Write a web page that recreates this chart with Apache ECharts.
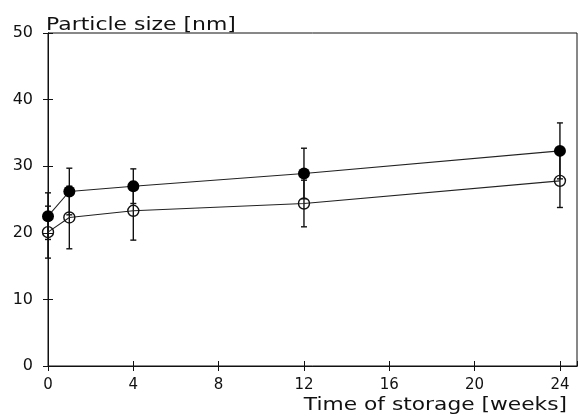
<!DOCTYPE html>
<html>
<head>
<meta charset="utf-8">
<script src="https://cdn.jsdelivr.net/npm/echarts@6/dist/echarts.min.js"></script>
<style>
  html, body { margin: 0; padding: 0; background: #fff; }
  #main { width: 579px; height: 417px; }
</style>
</head>
<body>
<div id="main"></div>
<script>
// storage time in weeks
var weeks = [0, 1, 4, 12, 24];
// filled circles
var filledMean = [22.5, 26.2, 27.0, 28.9, 32.3];
var filledErr = [3.5, 3.5, 2.6, 3.8, 4.2];
// open circles
var openMean = [20.1, 22.3, 23.3, 24.4, 27.8];
var openErr = [3.9, 4.7, 4.4, 3.5, 4.0];

var yTicks = [0, 10, 20, 30, 40, 50];
var xTicks = [0, 4, 8, 12, 16, 20, 24];

var font = 'DejaVu Sans';

function pairs(xs, ys) {
    return xs.map(function (x, i) { return [x, ys[i]]; });
}
function errRows(xs, m, e) {
    return xs.map(function (x, i) { return [x, m[i] - e[i], m[i] + e[i]]; });
}

function errBars(params, api) {
    var lo = api.coord([api.value(0), api.value(1)]);
    var hi = api.coord([api.value(0), api.value(2)]);
    var cap = 3;
    var st = { stroke: '#111', lineWidth: 1.4 };
    return {
        type: 'group',
        children: [
            { type: 'line', shape: { x1: lo[0], y1: lo[1], x2: hi[0], y2: hi[1] }, style: st },
            { type: 'line', shape: { x1: lo[0] - cap, y1: lo[1], x2: lo[0] + cap, y2: lo[1] }, style: st },
            { type: 'line', shape: { x1: hi[0] - cap, y1: hi[1], x2: hi[0] + cap, y2: hi[1] }, style: st }
        ]
    };
}

var myChart = echarts.init(document.getElementById('main'));

var axisBase = {
    type: 'value',
    min: 0,
    max: 24.8,
    interval: 4,
    splitLine: { show: false },
    axisLine: { lineStyle: { color: '#111', width: 1 } }
};

myChart.setOption({
    animation: false,
    backgroundColor: '#fff',
    grid: {
        left: 48, right: 2, top: 33, bottom: 51,
        show: true, borderColor: '#111', borderWidth: 1, backgroundColor: 'transparent'
    },
    graphic: [
        {
            type: 'text', x: 46, y: 34, scaleX: 1.29,
            style: {
                text: 'Particle size [nm]', font: '17px "' + font + '"', fill: '#111',
                align: 'left', verticalAlign: 'bottom', textAlign: 'left', textVerticalAlign: 'bottom'
            }
        },
        {
            type: 'text', x: 567, y: 414, scaleX: 1.28,
            style: {
                text: 'Time of storage [weeks]', font: '17px "' + font + '"', fill: '#111',
                align: 'right', verticalAlign: 'bottom', textAlign: 'right', textVerticalAlign: 'bottom'
            }
        }
    ],
    xAxis: [
        Object.assign({}, axisBase, {
            axisTick: { show: true, length: 5, lineStyle: { color: '#111' } },
            axisLabel: {
                color: '#111', fontSize: 15, fontFamily: font, margin: 12,
                showMaxLabel: false,
                formatter: function (v) { return xTicks.indexOf(v) >= 0 ? String(v) : ''; }
            }
        }),
        Object.assign({}, axisBase, {
            position: 'bottom',
            axisTick: { show: true, inside: true, length: 5, lineStyle: { color: '#111' } },
            axisLabel: { show: false }
        })
    ],
    yAxis: [
        {
            type: 'value', min: 0, max: 50, interval: 10,
            splitLine: { show: false },
            axisLine: { show: true, lineStyle: { color: '#111' } },
            axisTick: { show: true, length: 5, lineStyle: { color: '#111' } },
            axisLabel: {
                color: '#111', fontSize: 16, fontFamily: font, margin: 15,
                formatter: function (v) { return yTicks.indexOf(v) >= 0 ? String(v) : ''; }
            }
        },
        {
            type: 'value', min: 0, max: 50, interval: 10, position: 'left',
            splitLine: { show: false },
            axisLine: { show: true, lineStyle: { color: '#111' } },
            axisTick: { show: true, inside: true, length: 5, lineStyle: { color: '#111' } },
            axisLabel: { show: false }
        }
    ],
    series: [
        {
            type: 'custom', renderItem: errBars, z: 2,
            data: errRows(weeks, filledMean, filledErr),
            encode: { x: 0, y: [1, 2] }
        },
        {
            type: 'custom', renderItem: errBars, z: 2,
            data: errRows(weeks, openMean, openErr),
            encode: { x: 0, y: [1, 2] }
        },
        {
            type: 'line', z: 3,
            data: pairs(weeks, openMean),
            symbol: 'circle', symbolSize: 11,
            lineStyle: { color: '#222', width: 1.1 },
            itemStyle: { color: 'rgba(255,255,255,0)', borderColor: '#111', borderWidth: 1.4 }
        },
        {
            type: 'line', z: 4,
            data: pairs(weeks, filledMean),
            symbol: 'circle', symbolSize: 12,
            lineStyle: { color: '#222', width: 1.1 },
            itemStyle: { color: '#000', borderColor: '#000', borderWidth: 0 }
        }
    ]
});
</script>
</body>
</html>
